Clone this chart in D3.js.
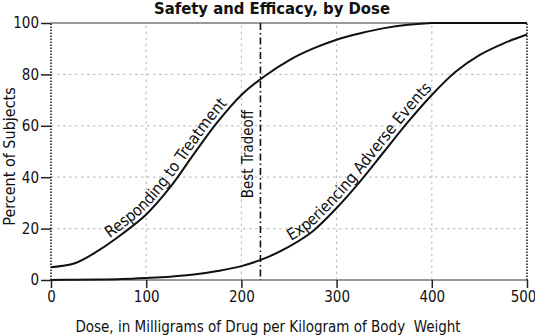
<!DOCTYPE html>
<html>
<head>
<meta charset="utf-8">
<script src="https://cdn.jsdelivr.net/npm/d3@7"></script>
<style>
  body { margin: 0; background: #fff; }
  svg { display: block; }
  text { font-family: "Liberation Sans Narrow", "DejaVu Sans Condensed", "Arial Narrow", sans-serif; fill: #111; }
</style>
</head>
<body>
<div id="chart"></div>
<script>
// doses (mg/kg) and percent of subjects
const doses = [0, 25, 50, 75, 100, 125, 150, 175, 200, 225, 250, 275, 300, 325, 350, 375, 400, 425, 450, 475, 500];
const responding = [5, 6.5, 11.5, 18, 25.5, 36, 49, 61.5, 72, 79.5, 85.5, 90, 93.5, 96, 98, 99.3, 100, 100, 100, 100, 100];
const adverse = [0, 0.1, 0.2, 0.4, 0.8, 1.3, 2.1, 3.5, 5.4, 8.5, 13, 19, 28, 38.5, 50, 61.5, 72, 81, 87.5, 92, 95.5];
const xTicks = [0, 100, 200, 300, 400, 500];
const yTicks = [0, 20, 40, 60, 80, 100];
const bestDose = 220;

const W = 535, H = 335;
const margin = { top: 23, right: 8, bottom: 55, left: 51 };

const svg = d3.select('#chart').append('svg')
  .attr('width', W)
  .attr('height', H);

const x = d3.scaleLinear().domain([0, 500]).range([margin.left, W - margin.right]);
const y = d3.scaleLinear().domain([0, 100]).range([H - margin.bottom, margin.top]);

// grid
svg.append('g')
  .selectAll('line.vg')
  .data(xTicks.slice(1, -1))
  .enter().append('line')
    .attr('x1', d => x(d)).attr('x2', d => x(d))
    .attr('y1', y(0)).attr('y2', y(100))
    .attr('stroke', '#c4c4c4').attr('stroke-width', 1.2)
    .attr('stroke-dasharray', '2.5,3.5');

svg.append('g')
  .selectAll('line.hg')
  .data(yTicks.slice(1, -1))
  .enter().append('line')
    .attr('x1', x(0)).attr('x2', x(500))
    .attr('y1', d => y(d)).attr('y2', d => y(d))
    .attr('stroke', '#c4c4c4').attr('stroke-width', 1.2)
    .attr('stroke-dasharray', '2.5,3.5');

// frame: grey top/bottom, dotted sides
svg.append('line')
  .attr('x1', x(0)).attr('x2', x(500)).attr('y1', y(100)).attr('y2', y(100))
  .attr('stroke', '#999').attr('stroke-width', 2);
svg.append('line')
  .attr('x1', x(0)).attr('x2', x(500)).attr('y1', y(0)).attr('y2', y(0))
  .attr('stroke', '#999').attr('stroke-width', 2);
[0, 500].forEach(d => {
  svg.append('line')
    .attr('x1', x(d)).attr('x2', x(d)).attr('y1', y(0)).attr('y2', y(100))
    .attr('stroke', '#222').attr('stroke-width', 1.6)
    .attr('stroke-dasharray', '1.5,1.5');
});

// axes
const yAxis = svg.append('g')
  .attr('transform', `translate(${x(0)},0)`)
  .call(d3.axisLeft(y).tickValues(yTicks).tickSize(10).tickPadding(2));
const xAxis = svg.append('g')
  .attr('transform', `translate(0,${y(0)})`)
  .call(d3.axisBottom(x).tickValues(xTicks).tickSize(8).tickPadding(3));

[yAxis, xAxis].forEach(a => {
  a.select('.domain').remove();
  a.selectAll('.tick line').attr('stroke', '#222').attr('stroke-width', 1.5);
  a.selectAll('.tick text')
    .style('font-family', '"Liberation Sans Narrow", "DejaVu Sans Condensed", sans-serif')
    .style('font-size', '15px')
    .attr('fill', '#111');
});
// last x label sits against the page edge
xAxis.selectAll('.tick text').filter(d => d === 500).attr('dx', -4);

// best tradeoff
svg.append('line')
  .attr('x1', x(bestDose)).attr('x2', x(bestDose))
  .attr('y1', y(100)).attr('y2', y(0))
  .attr('stroke', '#111').attr('stroke-width', 1.6)
  .attr('stroke-dasharray', '7,3,1.5,3');

svg.append('text')
  .attr('transform', `translate(${x(bestDose) - 7},${y(49)}) rotate(-90)`)
  .attr('text-anchor', 'middle')
  .style('font-size', '15px')
  .text('Best Tradeoff');

// curves
const line = d3.line()
  .x(d => x(d[0]))
  .y(d => y(d[1]))
  .curve(d3.curveCatmullRom.alpha(0.5));

const series = [
  { id: 'resp', vals: responding, label: 'Responding to Treatment', from: 64 },
  { id: 'adv', vals: adverse, label: 'Experiencing Adverse Events', from: 254 }
];

series.forEach(s => {
  const path = svg.append('path')
    .attr('id', s.id)
    .attr('d', line(doses.map((d, i) => [d, s.vals[i]])))
    .attr('fill', 'none')
    .attr('stroke', '#111')
    .attr('stroke-width', 2);

  // find where along the path the label starts
  const node = path.node();
  const total = node.getTotalLength();
  let start = 0;
  for (let l = 0; l < total; l += 0.5) {
    if (node.getPointAtLength(l).x >= x(s.from)) { start = l; break; }
  }

  svg.append('text')
    .attr('dy', -4)
    .style('font-size', '16px')
    .append('textPath')
      .attr('href', '#' + s.id)
      .attr('startOffset', start)
      .text(s.label);
});

// titles
svg.append('text')
  .attr('x', 272).attr('y', 14)
  .attr('text-anchor', 'middle')
  .style('font-size', '16.5px')
  .style('font-weight', 'bold')
  .text('Safety and Efficacy, by Dose');

svg.append('text')
  .attr('transform', `translate(14.5,${y(50) + 5}) rotate(-90)`)
  .attr('text-anchor', 'middle')
  .style('font-size', '16px')
  .text('Percent of Subjects');

svg.append('text')
  .attr('x', 268).attr('y', 332)
  .attr('text-anchor', 'middle')
  .attr('xml:space', 'preserve')
  .style('white-space', 'pre')
  .style('font-size', '15px')
  .text('Dose, in Milligrams of Drug per Kilogram of Body  Weight');
</script>
</body>
</html>
